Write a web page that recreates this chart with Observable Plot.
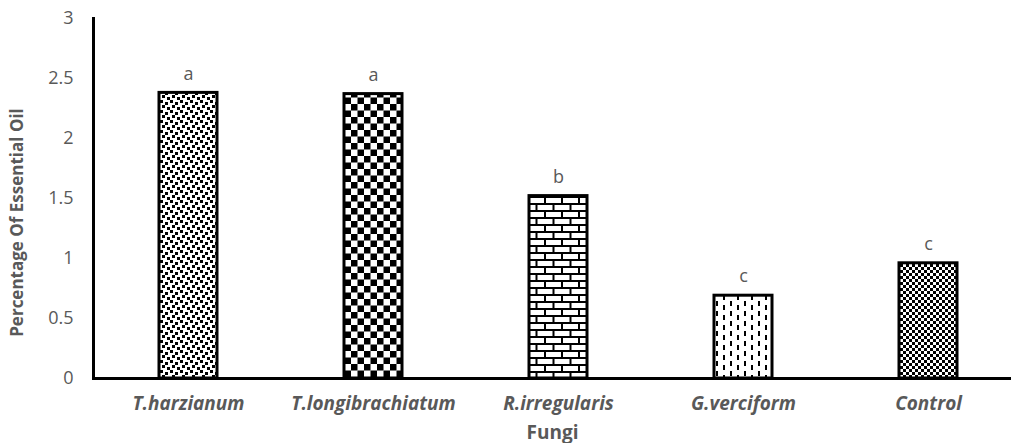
<!DOCTYPE html>
<html>
<head>
<meta charset="utf-8">
<script src="https://cdn.jsdelivr.net/npm/d3@7"></script>
<script src="https://cdn.jsdelivr.net/npm/@observablehq/plot@0.6"></script>
<style>
  html, body { margin: 0; padding: 0; background: #fff; }
</style>
</head>
<body>
<div id="chart"></div>
<script>
const categories = ["T.harzianum", "T.longibrachiatum", "R.irregularis", "G.verciform", "Control"];
const values = [2.38, 2.37, 1.52, 0.69, 0.96];
const letters = ["a", "a", "b", "c", "c"];
const patternIds = ["stipple", "checker", "brick", "dash", "finecheck"];
const yTicks = [0, 0.5, 1, 1.5, 2, 2.5, 3];
const yTickLabels = ["0", "0.5", "1", "1.5", "2", "2.5", "3"];

const data = categories.map((c, i) => ({cat: c, value: values[i], letter: letters[i], pat: patternIds[i]}));

const grey = "#595959";
const svg = Plot.plot({
  width: 1011,
  height: 443,
  marginLeft: 93,
  marginRight: 0,
  marginTop: 18,
  marginBottom: 65,
  style: {fontFamily: "'Open Sans', sans-serif", background: "#fff"},
  x: {domain: categories, range: [94, 1022], paddingInner: 0.6875, paddingOuter: 0.34375, label: null},
  y: {domain: [0, 3], label: null},
  color: {type: "identity"},
  marks: [
    Plot.axisY({ticks: yTicks, tickSize: 0, tickPadding: 20, tickFormat: d => yTickLabels[yTicks.indexOf(d)], fontSize: 18, fill: grey, label: null}),
    Plot.axisX({tickSize: 0, tickPadding: 18, fontSize: 19, fontWeight: "bold", fontStyle: "italic", fill: grey, label: null}),
    Plot.barY(data, {x: "cat", y: "value", fill: d => `url(#${d.pat})`, stroke: "black", strokeWidth: 3}),
    Plot.text(data, {x: "cat", y: "value", text: "letter", dy: -19, fontSize: 18, fill: grey}),
    Plot.frame({anchor: "left", stroke: "black", strokeWidth: 3}),
    Plot.ruleY([0], {stroke: "black", strokeWidth: 3}),
    Plot.text(["Percentage Of Essential Oil"], {frameAnchor: "left", textAnchor: "middle", rotate: -90, dx: -76, dy: 24, fontWeight: "bold", fontSize: 17, fill: grey}),
    Plot.text(["Fungi"], {frameAnchor: "bottom", dy: 60, fontWeight: "bold", fontSize: 19, fill: grey})
  ]
});

svg.insertAdjacentHTML("afterbegin", `
<defs>
  <pattern id="stipple" patternUnits="userSpaceOnUse" width="10" height="10">
    <rect width="10" height="10" fill="#fff"/>
    <rect x="0" y="0" width="3" height="3" fill="#000"/>
    <rect x="5" y="2" width="3" height="3" fill="#000"/>
    <rect x="2" y="5" width="3" height="3" fill="#000"/>
    <rect x="7" y="7" width="3" height="3" fill="#000"/>
  </pattern>
  <pattern id="checker" patternUnits="userSpaceOnUse" width="13" height="13">
    <rect width="13" height="13" fill="#fff"/>
    <rect x="0" y="0" width="6.5" height="6.5" fill="#000"/>
    <rect x="6.5" y="6.5" width="6.5" height="6.5" fill="#000"/>
  </pattern>
  <pattern id="brick" patternUnits="userSpaceOnUse" width="34" height="14">
    <rect width="34" height="14" fill="#fff"/>
    <rect x="0" y="0" width="34" height="2" fill="#000"/>
    <rect x="0" y="7" width="34" height="2" fill="#000"/>
    <rect x="0" y="0" width="2" height="7" fill="#000"/>
    <rect x="17" y="0" width="2" height="7" fill="#000"/>
    <rect x="8.5" y="7" width="2" height="7" fill="#000"/>
    <rect x="25.5" y="7" width="2" height="7" fill="#000"/>
  </pattern>
  <pattern id="dash" patternUnits="userSpaceOnUse" width="14" height="10">
    <rect width="14" height="10" fill="#fff"/>
    <rect x="2" y="1" width="2" height="5" fill="#000"/>
    <rect x="9" y="5" width="2" height="5" fill="#000"/>
  </pattern>
  <pattern id="finecheck" patternUnits="userSpaceOnUse" width="6" height="6">
    <rect width="6" height="6" fill="#fff"/>
    <rect x="0" y="0" width="3" height="3" fill="#000"/>
    <rect x="3" y="3" width="3" height="3" fill="#000"/>
  </pattern>
</defs>`);

document.getElementById("chart").appendChild(svg);
</script>
</body>
</html>
